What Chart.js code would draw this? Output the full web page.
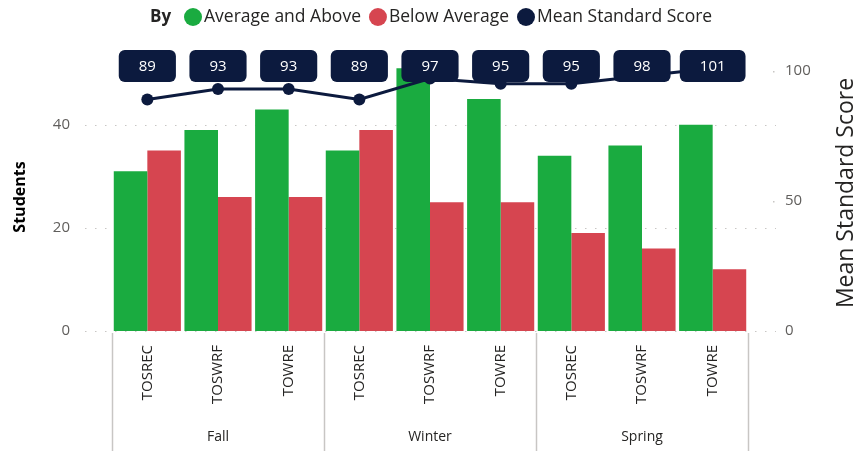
<!DOCTYPE html>
<html>
<head>
<meta charset="utf-8">
<script src="https://cdn.jsdelivr.net/npm/chart.js@4.4.0/dist/chart.umd.min.js"></script>
<style>
  html, body { margin: 0; padding: 0; background: #fff; }
</style>
</head>
<body>
<canvas id="chart" width="859" height="451"></canvas>
<script>
// data
const seasons = ['Fall', 'Winter', 'Spring'];
const measures = ['TOSREC', 'TOSWRF', 'TOWRE'];
const aboveAvg = [31, 39, 43, 35, 51, 45, 34, 36, 40];
const belowAvg = [35, 26, 26, 39, 25, 25, 19, 16, 12];
const meanScore = [89, 93, 93, 89, 97, 95, 95, 98, 101];
const studentTicks = [0, 20, 40];
const scoreTicks = [0, 50, 100];

const FONT = "'Segoe UI', 'Open Sans', sans-serif";
const GREEN = '#1aab40';
const RED = '#d64550';
const NAVY = '#0c1a3e';
const TEXT = '#252423';
const GREY = '#605e5c';

const labels = seasons.flatMap(() => measures);

// dotted gridlines that run a bit past the plot on both sides
const gridPlugin = {
  id: 'grid',
  beforeDatasetsDraw(chart) {
    const { ctx, chartArea } = chart;
    const y = chart.scales.y;
    const y1 = chart.scales.y1;
    ctx.save();
    ctx.strokeStyle = '#c8c6c4';
    ctx.lineWidth = 1;
    ctx.setLineDash([1.5, 8.5]);
    studentTicks.forEach(v => {
      const py = Math.round(y.getPixelForValue(v)) + 0.5;
      ctx.beginPath();
      ctx.moveTo(chartArea.left - 27, py);
      ctx.lineTo(chartArea.right + 28, py);
      ctx.stroke();
    });
    ctx.setLineDash([]);
    ctx.fillStyle = '#c8c6c4';
    scoreTicks.forEach(v => {
      if (v === 0) return;
      const py = Math.round(y1.getPixelForValue(v));
      ctx.fillRect(chartArea.right + 25, py, 1.5, 1.5);
    });
    ctx.restore();
  }
};

// season groups under the x axis + value boxes + legend + right title
const extrasPlugin = {
  id: 'extras',
  afterDatasetsDraw(chart) {
    const { ctx, chartArea } = chart;
    const x = chart.scales.x;
    const catW = (chartArea.right - chartArea.left) / labels.length;

    // value boxes for the line
    const meta = chart.getDatasetMeta(2);
    ctx.save();
    ctx.font = '15px ' + FONT;
    ctx.textAlign = 'center';
    ctx.textBaseline = 'middle';
    meta.data.forEach((pt, i) => {
      const txt = String(meanScore[i]);
      const w = ctx.measureText(txt).width + 40;
      const h = 32;
      const cy = 66;
      ctx.fillStyle = NAVY;
      ctx.beginPath();
      ctx.roundRect(pt.x - w / 2, cy - h / 2, w, h, 6);
      ctx.fill();
      ctx.fillStyle = '#fff';
      ctx.fillText(txt, pt.x, cy + 1);
    });
    ctx.restore();

    // group separators and season names
    ctx.save();
    ctx.strokeStyle = '#c8c6c4';
    ctx.lineWidth = 1.5;
    for (let g = 0; g <= seasons.length; g++) {
      const px = g < seasons.length
        ? x.getPixelForValue(g * measures.length) - catW / 2
        : x.getPixelForValue(labels.length - 1) + catW / 2;
      ctx.beginPath();
      ctx.moveTo(Math.round(px) + 0.5, chartArea.bottom + 2);
      ctx.lineTo(Math.round(px) + 0.5, 451);
      ctx.stroke();
    }
    ctx.fillStyle = TEXT;
    ctx.font = '14px ' + FONT;
    ctx.textAlign = 'center';
    ctx.textBaseline = 'middle';
    seasons.forEach((s, g) => {
      const a = x.getPixelForValue(g * measures.length);
      const b = x.getPixelForValue(g * measures.length + measures.length - 1);
      ctx.fillText(s, (a + b) / 2, 437);
    });
    ctx.restore();
  },
  afterDraw(chart) {
    const { ctx } = chart;
    ctx.save();
    // right axis title, reading bottom to top
    ctx.translate(846, 193);
    ctx.rotate(-Math.PI / 2);
    ctx.fillStyle = TEXT;
    ctx.font = '23px ' + FONT;
    ctx.textAlign = 'center';
    ctx.textBaseline = 'middle';
    ctx.fillText('Mean Standard Score', 0, 0);
    ctx.restore();

    // legend
    ctx.save();
    ctx.textBaseline = 'middle';
    ctx.textAlign = 'left';
    const ly = 17;
    let lx = 150;
    ctx.font = 'bold 17px ' + FONT;
    ctx.fillStyle = TEXT;
    ctx.fillText('By', lx, ly);
    lx = 184;
    ctx.font = '17.5px ' + FONT;
    chart.data.datasets.forEach(ds => {
      ctx.fillStyle = ds.legendColor;
      ctx.beginPath();
      ctx.arc(lx + 9, ly, 9, 0, Math.PI * 2);
      ctx.fill();
      lx += 20;
      ctx.fillStyle = TEXT;
      ctx.fillText(ds.label, lx, ly);
      lx += ctx.measureText(ds.label).width + 8;
    });
    ctx.restore();
  }
};

new Chart(document.getElementById('chart'), {
  type: 'bar',
  data: {
    labels: labels,
    datasets: [
      {
        label: 'Average and Above',
        data: aboveAvg,
        backgroundColor: GREEN,
        legendColor: GREEN,
        yAxisID: 'y',
        order: 1,
        barPercentage: 1,
        categoryPercentage: 0.95
      },
      {
        label: 'Below Average',
        data: belowAvg,
        backgroundColor: RED,
        legendColor: RED,
        yAxisID: 'y',
        order: 1,
        barPercentage: 1,
        categoryPercentage: 0.95
      },
      {
        type: 'line',
        label: 'Mean Standard Score',
        data: meanScore,
        borderColor: NAVY,
        backgroundColor: NAVY,
        legendColor: NAVY,
        borderWidth: 3,
        pointRadius: 6,
        pointBorderWidth: 0,
        pointBackgroundColor: NAVY,
        tension: 0,
        yAxisID: 'y1',
        order: 0
      }
    ]
  },
  options: {
    responsive: false,
    animation: false,
    layout: { padding: { top: 63, left: 0, right: 0, bottom: 0 } },
    plugins: {
      legend: { display: false },
      tooltip: { enabled: false }
    },
    scales: {
      x: {
        type: 'category',
        offset: true,
        grid: { display: false, drawTicks: false },
        border: { display: false },
        ticks: {
          autoSkip: false,
          minRotation: 90,
          maxRotation: 90,
          padding: 14,
          color: TEXT,
          font: { size: 15, family: FONT }
        },
        afterFit: s => { s.height = 120; }
      },
      y: {
        position: 'left',
        min: 0,
        max: 52,
        grid: { display: false, drawTicks: false },
        border: { display: false },
        ticks: { color: GREY, padding: 42, font: { size: 15, family: FONT } },
        afterBuildTicks: s => { s.ticks = studentTicks.map(v => ({ value: v })); },
        title: {
          display: true,
          text: 'Students',
          color: '#000',
          padding: { top: 11, bottom: 0 },
          font: { size: 16, weight: 'bold', family: FONT }
        },
        afterFit: s => { s.width = 112; }
      },
      y1: {
        position: 'right',
        min: 0,
        max: 103,
        grid: { display: false, drawTicks: false },
        border: { display: false },
        ticks: { color: GREY, padding: 37, font: { size: 15, family: FONT } },
        afterBuildTicks: s => { s.ticks = scoreTicks.map(v => ({ value: v })); },
        afterFit: s => { s.width = 111; }
      }
    }
  },
  plugins: [gridPlugin, extrasPlugin]
});
</script>
</body>
</html>
